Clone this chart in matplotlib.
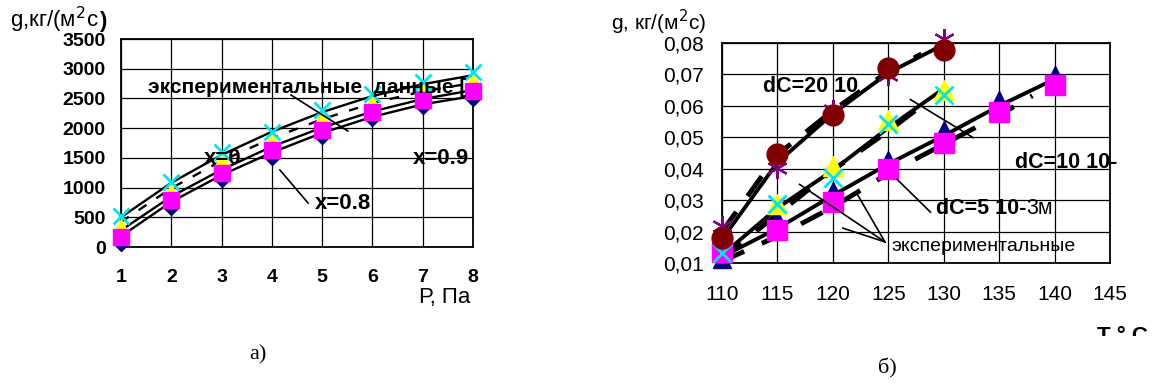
import matplotlib
matplotlib.use("Agg")
import matplotlib.pyplot as plt
from matplotlib.transforms import Bbox, TransformedBbox

plt.rcParams['font.family'] = ['Liberation Sans', 'DejaVu Sans']

# ---------------- left panel data ----------------
P = [1, 2, 3, 4, 5, 6, 7, 8]
line_x0 = [500, 1080, 1550, 1940, 2270, 2540, 2740, 2890]
line_dash = [420, 990, 1450, 1830, 2150, 2420, 2620, 2760]
line_x09 = [280, 850, 1300, 1690, 2010, 2280, 2490, 2640]
line_x08 = [180, 760, 1210, 1590, 1920, 2190, 2400, 2540]
exp_diamond = [60, 680, 1150, 1520, 1860, 2170, 2370, 2500]
exp_square = [170, 790, 1250, 1630, 1970, 2280, 2480, 2620]
exp_triangle = [340, 930, 1460, 1800, 2170, 2420, 2650, 2790]
exp_cross = [520, 1100, 1600, 1940, 2310, 2570, 2770, 2940]
left_yticks = [0, 500, 1000, 1500, 2000, 2500, 3000, 3500]

# ---------------- right panel data ----------------
T5 = [110, 115, 120, 125, 130, 135, 140]
T20 = [110, 115, 120, 125, 130]
T_dash = [110, 115, 120, 125, 128]
T5_dash = [110, 115, 120, 125, 130, 135, 138]
g20_line = [0.0175, 0.042, 0.0575, 0.0705, 0.0795]
g20_dash = [0.0200, 0.0445, 0.0585, 0.0710, 0.0765]
g10_line = [0.0125, 0.0275, 0.0395, 0.0530, 0.0655]
g10_dash = [0.0115, 0.0255, 0.0395, 0.0520, 0.0600]
g5_line = [0.0120, 0.0210, 0.0315, 0.0415, 0.0505, 0.0600, 0.0685]
g5_dash = [0.0105, 0.0185, 0.0278, 0.0385, 0.0478, 0.0570, 0.0632]
g20_circle = [0.0181, 0.0448, 0.0571, 0.0721, 0.0779]
g20_star = [0.0218, 0.0403, 0.0587, 0.0698, 0.0814]
g10_tri = [0.0134, 0.0287, 0.0408, 0.0556, 0.0650]
g10_cross = [0.0132, 0.0287, 0.0371, 0.0542, 0.0635]
g5_tri = [0.0113, 0.0240, 0.0329, 0.0429, 0.0524, 0.0619, 0.0698]
g5_square = [0.0135, 0.0206, 0.0295, 0.0400, 0.0482, 0.0582, 0.0666]
right_xticks = [110, 115, 120, 125, 130, 135, 140, 145]
right_yticks = [0.01, 0.02, 0.03, 0.04, 0.05, 0.06, 0.07, 0.08]

W, H = 1152, 387
fig = plt.figure(figsize=(W / 100, H / 100), dpi=100)

def axrect(l, t, r, b):
    return [l / W, 1 - b / H, (r - l) / W, (b - t) / H]

def text_after(first, s, **kw):
    """Place text s immediately to the right of text artist `first` (same baseline anchor)."""
    fig.canvas.draw()
    bb = first.get_window_extent()
    anchor = first.get_transform().transform(first.get_position())
    fx, fy = fig.transFigure.inverted().transform((bb.x1, anchor[1]))
    return fig.text(fx, fy, s, transform=fig.transFigure, **kw)

# ================= LEFT =================
ax1 = fig.add_axes(axrect(121, 39, 473, 247))
ax1.set_xlim(1, 8)
ax1.set_ylim(0, 3500)
ax1.set_xticks(P)
ax1.set_yticks(left_yticks)
ax1.grid(True, color='black', lw=0.9)
for s in ax1.spines.values():
    s.set_linewidth(1.3)
ax1.tick_params(length=0, labelsize=14, pad=16)
ax1.tick_params(axis='y', pad=11)
for lab in ax1.get_xticklabels() + ax1.get_yticklabels():
    lab.set_fontweight('bold')

ax1.plot(P, line_x0, color='black', lw=1.7, clip_on=False, zorder=3)
ax1.plot(P, line_dash, color='black', lw=1.7, ls=(0, (4, 5)), clip_on=False, zorder=3)
ax1.plot(P, line_x09, color='black', lw=1.7, clip_on=False, zorder=3)
ax1.plot(P, line_x08, color='black', lw=1.7, clip_on=False, zorder=3)
ax1.plot(P, exp_diamond, ls='none', marker='D', ms=8.5, color='#000080', clip_on=False, zorder=4)
ax1.plot(P, exp_triangle, ls='none', marker='^', ms=12, color='#FFFF00', clip_on=False, zorder=5)
ax1.plot(P, exp_square, ls='none', marker='s', ms=11, color='#FF00FF', clip_on=False, zorder=6)
ax1.plot(P, exp_cross, ls='none', marker='x', ms=12, mew=2, color='#00E5EE', clip_on=False, zorder=7)

ax1.text(1.54, 2692, 'экспериментальные  данные [', fontsize=15, fontweight='bold',
         va='center', ha='left', zorder=8)
ax1.plot([4.38, 5.51], [2558, 1952], color='black', lw=1.2, zorder=8)
ax1.text(2.64, 1481, 'x=0', fontsize=16, fontweight='bold', va='center', ha='left', zorder=8)
ax1.text(6.81, 1481, 'x=0.9', fontsize=16, fontweight='bold', va='center', ha='left', zorder=8)
ax1.text(4.86, 724, 'x=0.8', fontsize=16, fontweight='bold', va='center', ha='left', zorder=8)
ax1.plot([4.16, 4.72], [1296, 740], color='black', lw=1.2, zorder=8)

yl1 = fig.text(10 / W, 1 - 27 / H, 'g,кг/(м$^2$с', fontsize=16, va='baseline', ha='left')
text_after(yl1, ')', fontsize=16, fontweight='bold', va='baseline', ha='left')
fig.text(445 / W, 1 - 297 / H, 'Р, Па', fontsize=16, va='center', ha='center')

# ================= RIGHT =================
ax2 = fig.add_axes(axrect(722, 43, 1110, 263))
ax2.set_xlim(110, 145)
ax2.set_ylim(0.01, 0.08)
ax2.set_xticks(right_xticks)
ax2.set_yticks(right_yticks)
ax2.set_yticklabels([f'{v:.2f}'.replace('.', ',') for v in right_yticks])
ax2.grid(True, color='black', lw=0.9)
for s in ax2.spines.values():
    s.set_linewidth(1.3)
ax2.tick_params(length=0, labelsize=15)
ax2.tick_params(axis='x', pad=16)
ax2.tick_params(axis='y', pad=13)

lwl = 2.8
ax2.plot(T20, g20_line, color='black', lw=lwl, clip_on=False, zorder=3)
ax2.plot(T_dash, g20_dash, color='black', lw=lwl + 0.7, ls=(0, (5, 4)), clip_on=False, zorder=3)
ax2.plot(T20, g10_line, color='black', lw=lwl, clip_on=False, zorder=3)
ax2.plot(T_dash, g10_dash, color='black', lw=lwl + 0.7, ls=(0, (5, 4)), clip_on=False, zorder=3)
ax2.plot(T5, g5_line, color='black', lw=lwl, clip_on=False, zorder=3)
ax2.plot(T5_dash, g5_dash, color='black', lw=lwl + 0.7, ls=(0, (5, 4)), clip_on=False, zorder=3)

ax2.plot(T5, g5_tri, ls='none', marker='^', ms=13, color='#000080', clip_on=False, zorder=4)
ax2.plot(T5, g5_square, ls='none', marker='s', ms=14, color='#FF00FF', clip_on=False, zorder=5)
ax2.plot(T20, g10_tri, ls='none', marker='^', ms=14, color='#FFFF00', clip_on=False, zorder=4)
ax2.plot(T20, g10_cross, ls='none', marker='x', ms=13, mew=2, color='#00E5EE', clip_on=False, zorder=5)
ax2.plot(T20, g20_star, ls='none', marker=(6, 2, 0), ms=15, mew=1.6, color='#800080', clip_on=False, zorder=4)
ax2.plot(T20, g20_circle, ls='none', marker='o', ms=15, color='#800000', clip_on=False, zorder=5)

ax2.text(113.7, 0.0661, 'dC=20 10', fontsize=15.5, fontweight='bold', va='center', ha='left', zorder=8)
ax2.text(136.4, 0.0420, 'dC=10 10-', fontsize=15.5, fontweight='bold', va='center', ha='left', zorder=8)
t5 = ax2.text(129.3, 0.0274, 'dC=5 10-', fontsize=15.5, fontweight='bold', va='baseline', ha='left', zorder=8)
t5.set_y(0.0274 - 0.0017)
text_after(t5, '3м', fontsize=15.5, va='baseline', ha='left', zorder=8)
ax2.text(125.3, 0.0154, 'экспериментальные', fontsize=14, va='center', ha='left', zorder=8)
ax2.plot([125.8, 128.8], [0.0366, 0.0262], color='black', lw=1.2, zorder=8)
ax2.plot([127.0, 132.65], [0.0620, 0.0499], color='black', lw=1.2, zorder=8)
for tx, gy in [(120.9, 0.0211), (117.0, 0.0350), (122.1, 0.0325)]:
    ax2.plot([124.7, tx], [0.0167, gy], color='black', lw=1.2, zorder=8)

fig.text(611 / W, 1 - 22 / H, 'g, кг/(м$^2$с)', fontsize=15, va='center', ha='left')
tt = fig.text(1122 / W, 1 - 337 / H, 'Т ° С', fontsize=16, fontweight='bold', va='center', ha='center')
tt.set_clip_box(TransformedBbox(Bbox([[1050 / W, 1 - 336 / H], [1152 / W, 1 - 315 / H]]), fig.transFigure))
tt.set_clip_on(True)

fig.text(258 / W, 1 - 355 / H, 'а)', fontsize=16, family='Liberation Serif', va='center', ha='center')
fig.text(887 / W, 1 - 368 / H, 'б)', fontsize=16, family='Liberation Serif', va='center', ha='center')

fig.savefig('out.png', dpi=100)
